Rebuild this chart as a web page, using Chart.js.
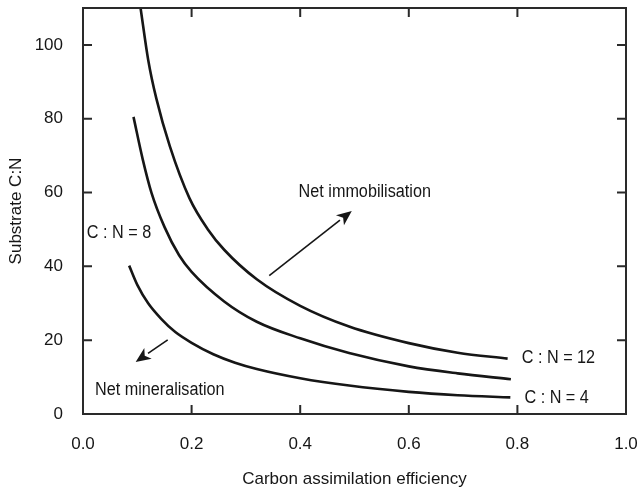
<!DOCTYPE html>
<html>
<head>
<meta charset="utf-8">
<script src="https://cdn.jsdelivr.net/npm/chart.js@4/dist/chart.umd.min.js"></script>
<style>
html,body{margin:0;padding:0;background:#fff;}
#wrap{width:637px;height:491px;position:relative;}
</style>
</head>
<body>
<div id="wrap"><canvas id="c" width="637" height="491"></canvas></div>
<script>
// ---- data ----
const efficiencyCN12 = [0.106, 0.12, 0.135, 0.16, 0.196, 0.23, 0.26, 0.32, 0.40, 0.49, 0.60, 0.69, 0.782];
const substrateCN12  = [110,   96,   85.5,  72.5, 58.5,  50,   44.5, 36.5, 29.3, 23.7, 19.2, 16.6, 15.0];

const efficiencyCN8  = [0.093, 0.11, 0.126, 0.15, 0.177, 0.20, 0.26, 0.32, 0.40, 0.49, 0.60, 0.69, 0.788];
const substrateCN8   = [80.5,  69,   60,    50.7, 43,    38.5, 30.5, 25,   20.5, 16.5, 12.9, 11.0, 9.4];

const efficiencyCN4  = [0.085, 0.10, 0.12, 0.144, 0.17, 0.20, 0.24, 0.28, 0.32, 0.40, 0.49, 0.60, 0.69, 0.787];
const substrateCN4   = [40.2,  35,   30,   25.8,  22.2, 19.3, 16.2, 13.9, 12.2, 9.7,  7.7,  6.0,  5.1,  4.5];

const xTickLabels = ['0.0', '0.2', '0.4', '0.6', '0.8', '1.0'];
const yTickLabels = ['0', '20', '40', '60', '80', '100'];

const curveLabelTexts = ['C : N = 12', 'C : N = 4', 'C : N = 8'];
const curveLabelX     = [0.808, 0.813, 0.007];
const curveLabelY     = [15.2, 4.3, 49.1];

const regionLabelTexts = ['Net immobilisation', 'Net mineralisation'];
const regionLabelX     = [0.397, 0.022];
const regionLabelY     = [60.1, 6.5];

const arrowFromX = [0.343, 0.156];
const arrowFromY = [37.5, 20.1];
const arrowToX   = [0.495, 0.097];
const arrowToY   = [55.0, 14.1];

const xTitle = 'Carbon assimilation efficiency';
const yTitle = 'Substrate C:N';

// ---- build ----
const FONT = '"Liberation Sans", Arial, sans-serif';
const FSIZE = 17;
const INK = '#161616';

function pts(xs, ys){ return xs.map((x,i)=>({x:x, y:ys[i]})); }

const lineStyle = {
  showLine: true, pointRadius: 0, borderColor: INK, borderWidth: 2.6,
  cubicInterpolationMode: 'monotone', fill: false
};

function noPad(s){ s.paddingTop = 0; s.paddingBottom = 0; s.paddingLeft = 0; s.paddingRight = 0; }

// condensed-looking annotation text
function narrowText(ctx, s, x, y){
  ctx.save();
  ctx.translate(x, y);
  ctx.scale(0.9, 1);
  ctx.fillText(s, 0, 0);
  ctx.restore();
}

const decor = {
  id: 'decor',
  afterDraw(chart){
    const ctx = chart.ctx, a = chart.chartArea;
    const xs = chart.scales.x, ys = chart.scales.y;
    ctx.save();
    ctx.strokeStyle = '#2a2a2a';
    ctx.lineWidth = 2;
    ctx.strokeRect(a.left, a.top, a.right - a.left, a.bottom - a.top);
    const tl = 9;
    xs.ticks.forEach(t=>{
      const p = xs.getPixelForValue(t.value);
      ctx.beginPath();
      ctx.moveTo(p, a.bottom); ctx.lineTo(p, a.bottom - tl);
      ctx.moveTo(p, a.top); ctx.lineTo(p, a.top + tl);
      ctx.stroke();
    });
    ys.ticks.forEach(t=>{
      const p = ys.getPixelForValue(t.value);
      ctx.beginPath();
      ctx.moveTo(a.left, p); ctx.lineTo(a.left + tl, p);
      ctx.moveTo(a.right, p); ctx.lineTo(a.right - tl, p);
      ctx.stroke();
    });
    ctx.fillStyle = INK;
    ctx.font = '18px ' + FONT;
    ctx.textBaseline = 'middle';
    ctx.textAlign = 'left';
    curveLabelTexts.forEach((s,i)=>{
      narrowText(ctx, s, xs.getPixelForValue(curveLabelX[i]), ys.getPixelForValue(curveLabelY[i]));
    });
    regionLabelTexts.forEach((s,i)=>{
      narrowText(ctx, s, xs.getPixelForValue(regionLabelX[i]), ys.getPixelForValue(regionLabelY[i]));
    });
    arrowFromX.forEach((fx,i)=>{
      const x0 = xs.getPixelForValue(fx), y0 = ys.getPixelForValue(arrowFromY[i]);
      const x1 = xs.getPixelForValue(arrowToX[i]), y1 = ys.getPixelForValue(arrowToY[i]);
      const ang = Math.atan2(y1 - y0, x1 - x0);
      const hl = 15, hw = 6.5;
      const bx = x1 - hl*Math.cos(ang), by = y1 - hl*Math.sin(ang);
      ctx.strokeStyle = INK; ctx.lineWidth = 1.6;
      ctx.beginPath(); ctx.moveTo(x0,y0); ctx.lineTo(bx,by); ctx.stroke();
      ctx.beginPath();
      ctx.moveTo(x1,y1);
      ctx.lineTo(bx + hw*Math.sin(ang), by - hw*Math.cos(ang));
      ctx.lineTo(x1 - (hl-4)*Math.cos(ang), y1 - (hl-4)*Math.sin(ang));
      ctx.lineTo(bx - hw*Math.sin(ang), by + hw*Math.cos(ang));
      ctx.closePath(); ctx.fill();
    });
    ctx.restore();
  }
};

new Chart(document.getElementById('c'), {
  type: 'scatter',
  data: {
    datasets: [
      Object.assign({label:'C : N = 12', data: pts(efficiencyCN12, substrateCN12)}, lineStyle),
      Object.assign({label:'C : N = 8',  data: pts(efficiencyCN8,  substrateCN8)},  lineStyle),
      Object.assign({label:'C : N = 4',  data: pts(efficiencyCN4,  substrateCN4)},  lineStyle)
    ]
  },
  options: {
    responsive: false,
    animation: false,
    devicePixelRatio: 1,
    layout: { padding: { top: 8, right: 11, left: 0, bottom: 0 } },
    plugins: { legend: { display: false }, tooltip: { enabled: false } },
    scales: {
      x: {
        type: 'linear', min: 0, max: 1,
        grid: { display: false, drawTicks: false }, border: { display: false },
        afterBuildTicks: s => { s.ticks = xTickLabels.map(v=>({value: parseFloat(v)})); },
        ticks: { padding: 20, color: INK, font: { family: FONT, size: FSIZE },
                 maxRotation: 0,
                 callback: (v)=> xTickLabels.find(l=>Math.abs(parseFloat(l)-v)<1e-9) },
        title: { display: true, text: xTitle, color: INK, font: { family: FONT, size: FSIZE },
                 padding: { top: 0, bottom: 1 } },
        afterFit: s => { s.height = 77; noPad(s); }
      },
      y: {
        type: 'linear', min: 0, max: 110,
        grid: { display: false, drawTicks: false }, border: { display: false },
        afterBuildTicks: s => { s.ticks = yTickLabels.map(v=>({value: parseFloat(v)})); },
        ticks: { padding: 20, color: INK, font: { family: FONT, size: FSIZE },
                 callback: (v)=> yTickLabels.find(l=>Math.abs(parseFloat(l)-v)<1e-9) },
        title: { display: true, text: yTitle, color: INK, font: { family: FONT, size: FSIZE },
                 padding: { top: 6, bottom: 0 } },
        afterFit: s => { s.width = 83; noPad(s); }
      }
    }
  },
  plugins: [decor]
});
</script>
</body>
</html>
